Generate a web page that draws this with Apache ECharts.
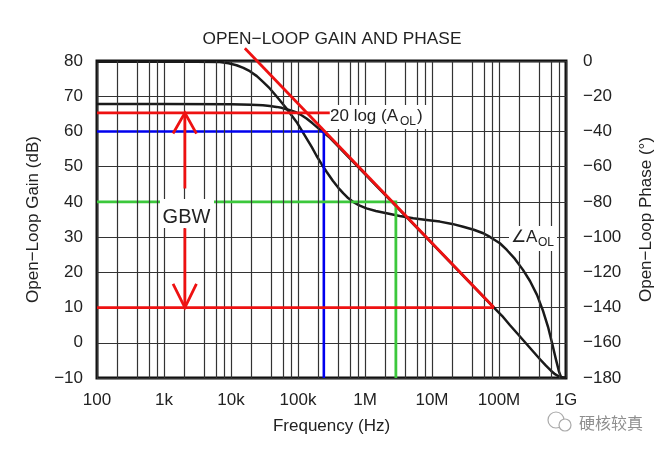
<!DOCTYPE html>
<html>
<head>
<meta charset="utf-8">
<script src="https://cdn.jsdelivr.net/npm/echarts@6/dist/echarts.min.js"></script>
<style>
html,body{margin:0;padding:0;background:#fff;}
#chart{width:664px;height:452px;}
</style>
</head>
<body>
<div id="chart"></div>
<script>
// ---- tick labels ----
const freqTickLabels = ['100', '1k', '10k', '100k', '1M', '10M', '100M', '1G'];
const minorMultipliers = [2, 4, 6, 8];
const decadeStarts = [100, 1e3, 1e4, 1e5, 1e6, 1e7, 1e8];

// ---- open-loop gain curve (dB) ----
const gainFreq = [100, 1000, 10000, 20000, 29900, 38000, 47800, 57000, 67400, 80000, 95100, 113000, 134000, 165000, 210000, 300000, 1000000, 10000000, 84000000, 111000000, 146000000, 192000000, 252000000, 321000000, 409000000, 502000000, 597000000, 685000000, 786000000, 902000000, 1000000000];
const gainDb = [67.8, 67.8, 67.75, 67.6, 67.45, 67.2, 66.97, 66.7, 66.31, 65.9, 65.38, 64.6, 63.68, 62.3, 60.6, 58.2, 47.9, 28.2, 10.0, 7.66, 4.97, 2.42, -0.14, -2.41, -4.67, -6.51, -7.93, -8.92, -9.57, -9.86, -10];

// ---- open-loop phase curve (deg) ----
const phaseFreq = [100, 3000, 6800, 9200, 12100, 15300, 19100, 24300, 30100, 37900, 45000, 53500, 67400, 80000, 95100, 113000, 134000, 160000, 189000, 225000, 267000, 331000, 400000, 472000, 560000, 666000, 820000, 1050000, 1450000, 2100000, 3300000, 5240000, 8300000, 13100000, 20000000, 29200000, 42000000, 58200000, 73300000, 103000000, 131000000, 173000000, 228000000, 290000000, 369000000, 454000000, 539000000, 618000000, 710000000, 787000000, 843000000, 1000000000];
const phaseDeg = [-0.4, -0.45, -0.6, -1.3, -2.4, -3.9, -5.8, -8.6, -11.9, -15.6, -18.9, -22.3, -27.0, -30.8, -34.6, -39.2, -43.9, -48.8, -53.8, -58.6, -62.9, -68.0, -72.0, -75.0, -77.8, -80.0, -82.0, -83.7, -85.2, -86.5, -88.0, -89.3, -90.3, -91.2, -92.5, -94.1, -95.8, -97.8, -99.9, -103.5, -107.3, -112.4, -118.6, -124.9, -132.8, -141.9, -150.9, -160.0, -169.7, -176.4, -179.5, -180];

// ---- annotation lines (freq, dB) ----
const asymptoteFreq = [16100, 84000000];
const asymptoteDb = [83.6, 10];
const aolLevelFreq = [100, 298000];
const aolLevelDb = [65.3, 65.3];
const blueFreq = [100, 243000, 243000];
const blueDb = [60, 60, -10];
const greenFreq = [100, 2890000, 2890000];
const greenDb = [40, 40, -10];
const lowLevelFreq = [100, 84000000];
const lowLevelDb = [10, 10];
const arrowShaftTopFreq = [2050, 2050];
const arrowShaftTopDb = [65.3, 43.8];
const arrowShaftBotFreq = [2050, 2050];
const arrowShaftBotDb = [32.5, 10];
const arrowHeadTopFreq = [1365, 2050, 3050];
const arrowHeadTopDb = [59.4, 65.3, 59.4];
const arrowHeadBotFreq = [1365, 2050, 3050];
const arrowHeadBotDb = [16.7, 10, 16.7];

const zip = (a, b) => a.map((v, i) => [v, b[i]]);
const minus = v => (v < 0 ? '\u2212' + Math.abs(v) : String(v));
const FONT = 'Liberation Sans, Arial, sans-serif';
const TXT = '#222';

const minorLines = [];
decadeStarts.forEach(d => minorMultipliers.forEach(m => minorLines.push({ xAxis: d * m })));

function seg(name, f, v, color, width, z, clip) {
  return {
    name, type: 'line', data: zip(f, v), symbol: 'none', z: z || 4,
    clip: clip !== false, silent: true,
    lineStyle: { color, width, cap: 'butt', join: 'miter' }
  };
}

const chart = echarts.init(document.getElementById('chart'), null, { renderer: 'canvas' });
const option = {
  animation: false,
  backgroundColor: '#fff',
  grid: { left: 97, right: 98, top: 61, bottom: 74, show: true, borderColor: '#111', borderWidth: 3, backgroundColor: 'transparent' },
  xAxis: {
    type: 'log', logBase: 10, min: 100, max: 1e9,
    axisLine: { show: false }, axisTick: { show: false },
    axisLabel: {
      margin: 14, color: TXT, fontSize: 17, fontFamily: FONT,
      formatter: v => freqTickLabels[Math.round(Math.log10(v)) - 2]
    },
    splitLine: { show: true, lineStyle: { color: '#333', width: 1.2 } },
    name: 'Frequency (Hz)', nameLocation: 'middle', nameGap: 40,
    nameTextStyle: { color: TXT, fontSize: 17, fontFamily: FONT }
  },
  yAxis: [{
    type: 'value', min: -10, max: 80, interval: 10,
    axisLine: { show: false }, axisTick: { show: false },
    axisLabel: { margin: 14, color: TXT, fontSize: 17, fontFamily: FONT, formatter: minus },
    splitLine: { show: true, lineStyle: { color: '#333', width: 1.2 } },
    name: 'Open\u2212Loop Gain (dB)', nameLocation: 'middle', nameGap: 55, nameRotate: 90,
    nameTextStyle: { color: TXT, fontSize: 17, fontFamily: FONT }
  }, {
    type: 'value', min: -180, max: 0, interval: 20, position: 'right',
    axisLine: { show: false }, axisTick: { show: false },
    axisLabel: { margin: 17, color: TXT, fontSize: 17, fontFamily: FONT, formatter: minus },
    splitLine: { show: false },
    name: 'Open\u2212Loop Phase (\u00b0)', nameLocation: 'middle', nameGap: 72, nameRotate: 90,
    nameTextStyle: { color: TXT, fontSize: 17, fontFamily: FONT }
  }],
  series: [
    {
      name: 'minorGrid', type: 'line', data: [], z: 1, silent: true,
      markLine: {
        silent: true, symbol: 'none', animation: false,
        label: { show: false },
        lineStyle: { color: '#333', width: 1.2, type: 'solid' },
        data: minorLines
      }
    },
    {
      name: 'gain', type: 'line', data: zip(gainFreq, gainDb), symbol: 'none', z: 3,
      lineStyle: { color: '#1a1a1a', width: 2.5, join: 'round' }
    },
    {
      name: 'phase', type: 'line', yAxisIndex: 1, data: zip(phaseFreq, phaseDeg), symbol: 'none', z: 3,
      lineStyle: { color: '#1a1a1a', width: 2.5, join: 'round' }
    },
    seg('blue', blueFreq, blueDb, '#0000ee', 2.6, 4),
    seg('green', greenFreq, greenDb, '#3cc83c', 2.8, 4),
    seg('aolLevel', aolLevelFreq, aolLevelDb, '#ee1111', 2.8, 5),
    seg('lowLevel', lowLevelFreq, lowLevelDb, '#ee1111', 2.8, 5),
    seg('asymptote', asymptoteFreq, asymptoteDb, '#ee1111', 2.8, 5, false),
    seg('shaftTop', arrowShaftTopFreq, arrowShaftTopDb, '#ee1111', 2.8, 5),
    seg('shaftBot', arrowShaftBotFreq, arrowShaftBotDb, '#ee1111', 2.8, 5),
    seg('headTop', arrowHeadTopFreq, arrowHeadTopDb, '#ee1111', 2.8, 5),
    seg('headBot', arrowHeadBotFreq, arrowHeadBotDb, '#ee1111', 2.8, 5)
  ],
  graphic: [
    { type: 'text', x: 332, y: 39, z: 20, style: { text: 'OPEN\u2212LOOP GAIN AND PHASE', fontSize: 17.3, fontFamily: FONT, fill: TXT, align: 'center', verticalAlign: 'middle' } },
    { type: 'rect', z: 19, shape: { x: 330, y: 105, width: 97, height: 24 }, style: { fill: '#fff' } },
    { type: 'text', x: 330, y: 116, z: 20, style: { text: '20 log (A', fontSize: 17, fontFamily: FONT, fill: TXT, align: 'left', verticalAlign: 'middle' } },
    { type: 'text', x: 400, y: 122, z: 20, style: { text: 'OL', fontSize: 12, fontFamily: FONT, fill: TXT, align: 'left', verticalAlign: 'middle' } },
    { type: 'text', x: 417, y: 116, z: 20, style: { text: ')', fontSize: 17, fontFamily: FONT, fill: TXT, align: 'left', verticalAlign: 'middle' } },
    { type: 'rect', z: 19, shape: { x: 509, y: 226, width: 48, height: 25 }, style: { fill: '#fff' } },
    { type: 'text', x: 511, y: 237, z: 20, style: { text: '\u2220A', fontSize: 17, fontFamily: FONT, fill: TXT, align: 'left', verticalAlign: 'middle' } },
    { type: 'text', x: 538, y: 243, z: 20, style: { text: 'OL', fontSize: 12, fontFamily: FONT, fill: TXT, align: 'left', verticalAlign: 'middle' } },
    { type: 'rect', z: 19, shape: { x: 160, y: 199, width: 54, height: 29 }, style: { fill: '#fff' } },
    { type: 'text', x: 186.5, y: 217, z: 20, style: { text: 'GBW', fontSize: 20, fontFamily: FONT, fill: TXT, align: 'center', verticalAlign: 'middle' } },
    { type: 'text', x: 579, y: 423, z: 20, style: { text: '硬核较真', fontSize: 16, fontFamily: 'Noto Sans CJK SC', fill: '#8f8f8f', align: 'left', verticalAlign: 'middle' } },
    { type: 'circle', z: 20, shape: { cx: 556, cy: 420, r: 8 }, style: { fill: 'none', stroke: '#aaa', lineWidth: 1.2 } },
    { type: 'circle', z: 20, shape: { cx: 565, cy: 425, r: 6 }, style: { fill: '#fff', stroke: '#aaa', lineWidth: 1.2 } }
  ]
};
chart.setOption(option);
</script>
</body>
</html>
